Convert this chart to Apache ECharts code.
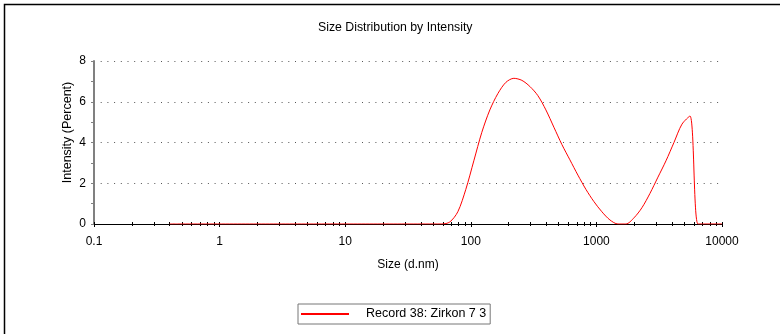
<!DOCTYPE html>
<html>
<head>
<meta charset="utf-8">
<title>Size Distribution by Intensity</title>
<script src="https://cdn.jsdelivr.net/npm/echarts@6/dist/echarts.min.js"></script>
<style>
  html, body { margin: 0; padding: 0; background: #fff; }
  #chart { width: 780px; height: 334px; }
</style>
</head>
<body>
<div id="chart"></div>
<script>
// Size classes (d.nm) of the measurement, log-spaced from 0.4 to 10000 nm
const sizes = [
  0.4, 0.4632, 0.5365, 0.6213, 0.7195, 0.8332, 0.9649, 1.117, 1.294, 1.499,
  1.736, 2.010, 2.328, 2.696, 3.122, 3.615, 4.187, 4.849, 5.615, 6.503,
  7.531, 8.721, 10.10, 11.70, 13.54, 15.69, 18.17, 21.04, 24.36, 28.21,
  32.67, 37.84, 43.82, 50.75, 58.77, 68.06, 78.82, 91.28, 105.7, 122.4,
  141.8, 164.2, 190.1, 220.2, 255.0, 295.3, 342.0, 396.1, 458.7, 531.2,
  615.1, 712.4, 825.0, 955.4, 1106, 1281, 1484, 1718, 1990, 2305,
  2669, 3091, 3580, 4145, 4801, 5560, 6439, 7456, 8635, 10000
];

// Intensity (%) in each size class
const intensity = [
  0, 0, 0, 0, 0, 0, 0, 0, 0, 0,
  0, 0, 0, 0, 0, 0, 0, 0, 0, 0,
  0, 0, 0, 0, 0, 0, 0, 0, 0, 0,
  0, 0, 0, 0, 0.0, 0.1, 0.6, 1.7, 3.1, 4.5,
  5.6, 6.4, 6.95, 7.15, 7.05, 6.75, 6.3, 5.6, 4.75, 3.9,
  3.15, 2.4, 1.7, 1.1, 0.6, 0.2, 0.0, 0.0, 0.3, 0.8,
  1.5, 2.3, 3.1, 4.0, 4.9, 5.3, 0, 0, 0, 0
];

const xTickLabels = ['0.1', '1', '10', '100', '1000', '10000'];
const yTickLabels = ['0', '2', '4', '6', '8'];
const seriesName = 'Record 38: Zirkon 7 3';

const FONT = '"Liberation Sans", Arial, sans-serif';
const RED = '#ff0000';
const plotRect = { left: 94, right: 58, top: 61, bottom: 110 };

// Decade ticks plus the 2..9 subdivisions, in log10 units for the tick-only axes
const decades = xTickLabels.map(Number);
const tickLogs = [];
decades.forEach((d, i) => {
  if (i === decades.length - 1) { tickLogs.push(Math.log10(d)); return; }
  for (let k = 1; k <= 9; k++) tickLogs.push(Math.log10(d * k));
});

const tickGrid = (inside) => ({
  xAxis: {
    type: 'value', min: Math.log10(decades[0]), max: Math.log10(decades[decades.length - 1]),
    axisLine: { show: false },
    axisLabel: { show: false },
    splitLine: { show: false },
    axisTick: { show: true, inside: inside, length: 2, customValues: tickLogs,
                lineStyle: { color: '#000', width: 1 } }
  },
  yAxis: { type: 'value', show: false, min: 0, max: 8 }
});
const tIn = tickGrid(true), tOut = tickGrid(false);

const chart = echarts.init(document.getElementById('chart'), null, { renderer: 'canvas' });

chart.setOption({
  animation: false,
  backgroundColor: '#fff',
  color: [RED],
  textStyle: { fontFamily: FONT },
  title: {
    text: 'Size Distribution by Intensity',
    left: 318, top: 22, padding: 0,
    textStyle: { fontFamily: FONT, fontSize: 12.3, fontWeight: 'normal', color: '#000' }
  },
  graphic: [{
    type: 'polyline',
    shape: { points: [[4.5, 334], [4.5, 4.5], [780, 4.5]] },
    style: { stroke: '#000', lineWidth: 1.5, fill: null },
    silent: true
  }],
  legend: {
    data: [seriesName],
    left: 298, top: 304,
    padding: [3, 4, 3, 3],
    icon: 'rect',
    itemWidth: 48, itemHeight: 2,
    itemStyle: { color: RED, borderColor: RED, borderWidth: 0, opacity: 1 },
    inactiveColor: RED,
    borderColor: '#777', borderWidth: 1, borderRadius: 0,
    textStyle: { fontFamily: FONT, fontSize: 12.5, color: '#000', padding: [0, 0, 0, 12], lineHeight: 14 }
  },
  grid: [
    Object.assign({ containLabel: false }, plotRect),
    Object.assign({ containLabel: false }, plotRect),
    Object.assign({ containLabel: false }, plotRect)
  ],
  xAxis: [{
    gridIndex: 0,
    type: 'log', logBase: 10,
    min: decades[0], max: decades[decades.length - 1],
    splitNumber: 5,
    name: 'Size (d.nm)', nameLocation: 'middle', nameGap: 35, nameMoveOverlap: false,
    nameTextStyle: { fontFamily: FONT, fontSize: 12, color: '#000' },
    axisLine: { show: true, lineStyle: { color: '#000', width: 1 } },
    axisTick: { show: true, length: 3, lineStyle: { color: '#000' } },
    minorTick: { show: false },
    splitLine: { show: false },
    axisLabel: {
      fontFamily: FONT, fontSize: 12, color: '#000', margin: 12,
      formatter: (v) => {
        const i = decades.findIndex(d => Math.abs(Math.log10(d) - Math.log10(v)) < 1e-6);
        return i >= 0 ? xTickLabels[i] : '';
      }
    }
  },
  Object.assign({ gridIndex: 1 }, tIn.xAxis),
  Object.assign({ gridIndex: 2 }, tOut.xAxis)],
  yAxis: [{
    gridIndex: 0,
    type: 'value', min: 0, max: 8, interval: 2,
    name: 'Intensity (Percent)', nameLocation: 'middle', nameGap: 20, nameMoveOverlap: false,
    nameTextStyle: { fontFamily: FONT, fontSize: 12.5, color: '#000', padding: [0, 0, 0, 20] },
    axisLine: { show: true, lineStyle: { color: '#808080', width: 2 } },
    axisTick: { show: true, length: 3, lineStyle: { color: '#808080', width: 1 } },
    minorTick: { show: true, splitNumber: 2, length: 3, lineStyle: { color: '#808080', width: 1 } },
    axisLabel: {
      fontFamily: FONT, fontSize: 12, color: '#000', margin: 8,
      formatter: (v) => yTickLabels.includes(String(v)) ? String(v) : ''
    },
    splitLine: { show: true, lineStyle: { color: '#555', width: 1, type: [1, 5.7] } }
  },
  Object.assign({ gridIndex: 1 }, tIn.yAxis),
  Object.assign({ gridIndex: 2 }, tOut.yAxis)],
  series: [{
    name: seriesName,
    type: 'line',
    xAxisIndex: 0, yAxisIndex: 0,
    data: sizes.map((s, i) => [s, intensity[i]]),
    symbol: 'none',
    smooth: 0.3,
    lineStyle: { color: RED, width: 1 },
    itemStyle: { color: RED },
    z: 5
  }]
});
</script>
</body>
</html>
